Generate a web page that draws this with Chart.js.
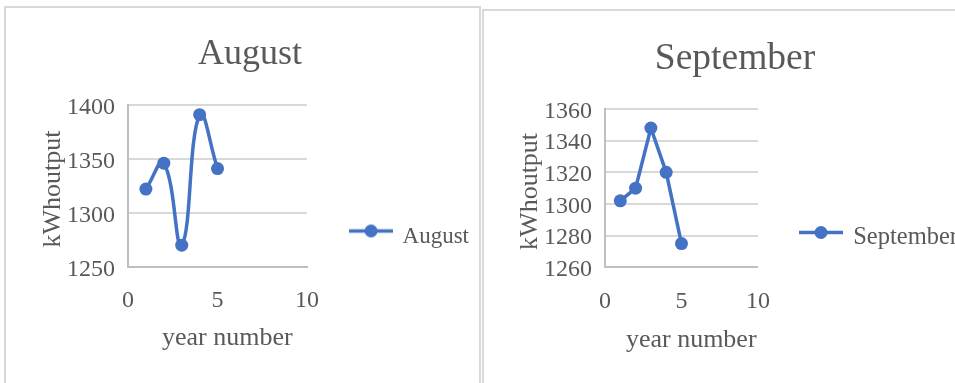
<!DOCTYPE html>
<html>
<head>
<meta charset="utf-8">
<script src="https://cdn.jsdelivr.net/npm/chart.js@4/dist/chart.umd.min.js"></script>
<style>
  html, body { margin: 0; padding: 0; background: #fff; width: 955px; height: 383px; overflow: hidden; position: relative; }
  .panel { position: absolute; box-sizing: border-box; border: 2px solid #D9D9D9; background: #fff; }
  #panelAug { left: 4px; top: 6px; width: 477px; height: 420px; }
  #panelSep { left: 482px; top: 9px; width: 600px; height: 420px; }
  canvas { position: absolute; }
  #augChart { left: 0; top: 0; }
  #sepChart { left: 482px; top: 0; }
</style>
</head>
<body>
<div class="panel" id="panelAug"></div>
<div class="panel" id="panelSep"></div>
<canvas id="augChart" width="479" height="473"></canvas>
<canvas id="sepChart" width="486" height="476"></canvas>
<script>
// Year numbers along the horizontal axis
const years = [1, 2, 3, 4, 5];
// kWh output for each year
const augustOutput = [1322, 1346, 1270, 1391, 1341];
const septemberOutput = [1302, 1310, 1348, 1320, 1275];
// Horizontal axis ticks: [min, max, step]
const xTickRange = [0, 10, 5];
// Vertical axis ticks [min, max, step]
const augustTickRange = [1250, 1400, 50];
const septemberTickRange = [1260, 1360, 20];

const BLUE = '#4472C4';
const TEXT = '#595959';
const GRID = '#D9D9D9';
const AXIS = '#BFBFBF';
const SERIF = "'Liberation Serif', 'Times New Roman', serif";

// Line-with-dot legend symbol
function legendSymbol() {
  const c = document.createElement('canvas');
  c.width = 44; c.height = 30;
  const g = c.getContext('2d');
  g.strokeStyle = BLUE; g.lineWidth = 3.5;
  g.beginPath(); g.moveTo(0, 9.5); g.lineTo(44, 9.5); g.stroke();
  g.fillStyle = BLUE;
  g.beginPath(); g.arc(22, 9.5, 6.5, 0, Math.PI * 2); g.fill();
  return c;
}
const symbol = legendSymbol();

// Let the right-hand legend take its natural width instead of the
// default cap of a quarter of the canvas width.
const wideLegend = {
  id: 'wideLegend',
  beforeLayout(chart) {
    const lg = chart.legend;
    if (lg && !lg._wideUpdate) {
      const update = lg.update;
      lg.update = function (maxWidth, maxHeight, margins) {
        return update.call(this, 1000, maxHeight, margins);
      };
      lg._wideUpdate = true;
    }
  }
};

function buildChart(canvasId, name, values, yRange, smooth, L) {
  const points = years.map((x, i) => ({ x: x, y: values[i] }));
  return new Chart(document.getElementById(canvasId), {
    type: 'line',
    data: {
      datasets: [{
        label: name,
        data: points,
        borderColor: BLUE,
        backgroundColor: BLUE,
        borderWidth: 3.5,
        tension: smooth ? 0.45 : 0,
        pointRadius: 6.5,
        pointBackgroundColor: BLUE,
        pointBorderColor: BLUE,
        pointBorderWidth: 0,
        fill: false
      }]
    },
    plugins: [wideLegend],
    options: {
      responsive: false,
      animation: false,
      devicePixelRatio: 1,
      events: [],
      layout: { padding: { left: L.padLeft, top: 0, right: 0, bottom: 0 } },
      plugins: {
        tooltip: { enabled: false },
        title: {
          display: true,
          text: name,
          color: TEXT,
          font: { family: SERIF, size: L.titleSize, weight: 'normal' },
          padding: { top: L.titleTop, bottom: L.titleBottom }
        },
        legend: {
          display: true,
          position: 'right',
          align: 'center',
          labels: {
            usePointStyle: true,
            pointStyleWidth: 40,
            padding: L.legendPad,
            color: TEXT,
            font: { family: SERIF, size: L.legendSize },
            generateLabels(chart) {
              const items = Chart.defaults.plugins.legend.labels.generateLabels(chart);
              items.forEach(it => { it.pointStyle = symbol; });
              return items;
            }
          }
        }
      },
      scales: {
        x: {
          type: 'linear',
          min: xTickRange[0],
          max: xTickRange[1],
          ticks: {
            stepSize: xTickRange[2],
            autoSkip: false,
            color: TEXT,
            font: { family: SERIF, size: 24 },
            padding: L.xTickPad,
            maxRotation: 0
          },
          grid: { display: false, drawTicks: false },
          border: { display: true, color: AXIS, width: 2 },
          title: {
            display: true,
            text: '   year number',
            color: TEXT,
            font: { family: SERIF, size: 26 },
            padding: { top: 0, bottom: L.xTitlePad }
          },
          afterFit(scale) { scale.height = L.xHeight; }
        },
        y: {
          min: yRange[0],
          max: yRange[1],
          ticks: {
            stepSize: yRange[2],
            autoSkip: false,
            color: TEXT,
            font: { family: SERIF, size: 24 },
            padding: 13,
            labelOffset: L.yLabelOffset,
            callback: v => String(v)
          },
          grid: { display: true, color: GRID, lineWidth: 2, drawTicks: false },
          border: { display: true, color: AXIS, width: 2 },
          title: {
            display: true,
            text: 'kWhoutput ',
            color: TEXT,
            font: { family: SERIF, size: 26 },
            padding: { top: L.yTitlePad, bottom: 0 }
          },
          afterFit(scale) { scale.width = L.yWidth; }
        }
      }
    }
  });
}

buildChart('augChart', 'August', augustOutput, augustTickRange, true, {
  padLeft: 21, titleSize: 36, titleTop: 33, titleBottom: 28.8,
  legendSize: 23, legendPad: 44,
  yWidth: 107, yTitlePad: 16.9, yLabelOffset: 3,
  xHeight: 206.3, xTickPad: 19.4, xTitlePad: 119.2
});

buildChart('sepChart', 'September', septemberOutput, septemberTickRange, false, {
  padLeft: 20, titleSize: 37.5, titleTop: 36.35, titleBottom: 27.65,
  legendSize: 24.5, legendPad: 43,
  yWidth: 103, yTitlePad: 12.9, yLabelOffset: 2.5,
  xHeight: 208.7, xTickPad: 20.5, xTitlePad: 120.7
});
</script>
</body>
</html>
